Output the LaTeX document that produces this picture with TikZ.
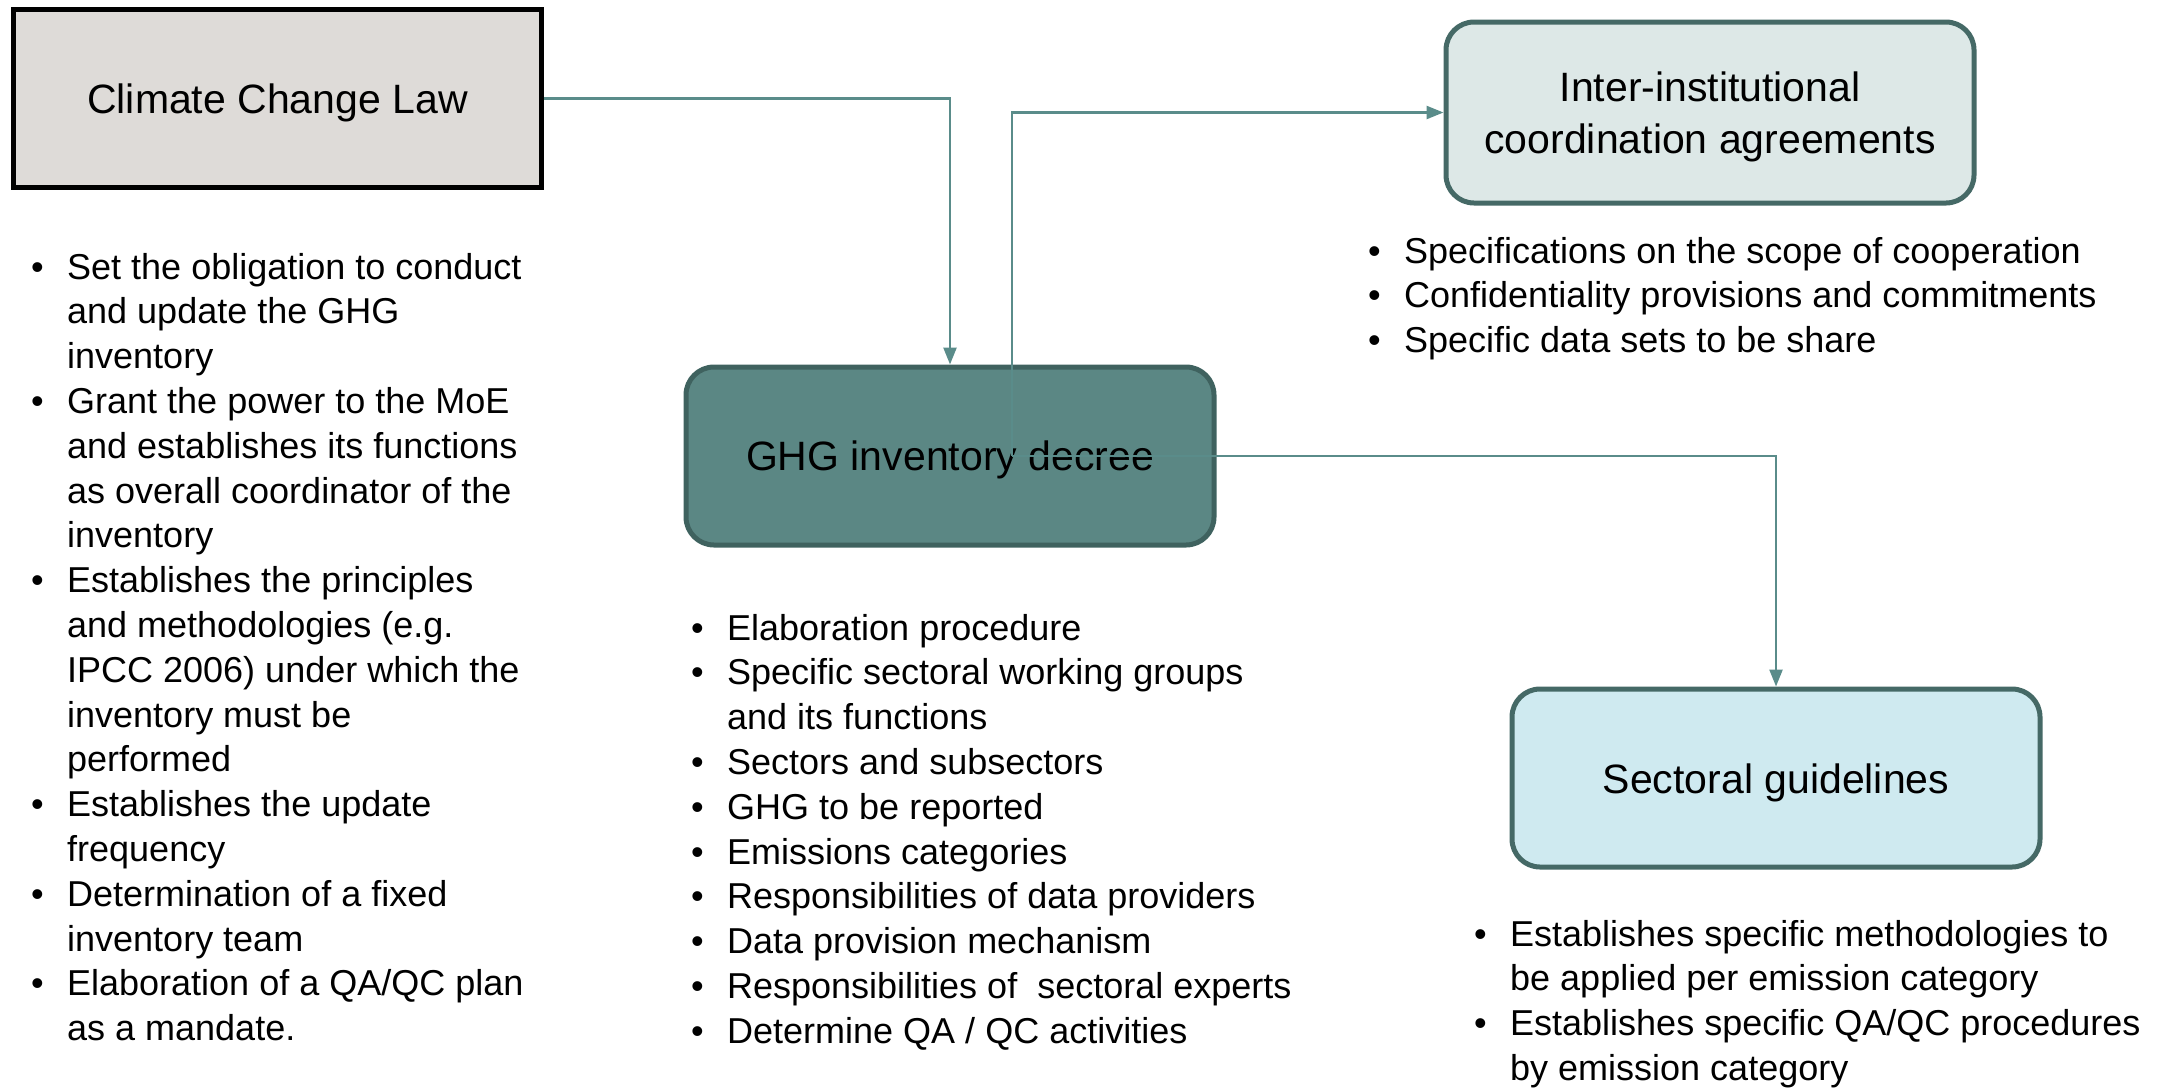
\documentclass[tikz,border=0pt]{standalone}
\usepackage{fontspec}
\setmainfont{Liberation Sans}
\usetikzlibrary{arrows.meta}
\definecolor{lawfill}{HTML}{DEDBD8}
\definecolor{decfill}{HTML}{5B8784}
\definecolor{decdraw}{HTML}{3F625F}
\definecolor{intfill}{HTML}{DDE8E7}
\definecolor{sectfill}{HTML}{CFEAF0}
\definecolor{boxdraw}{HTML}{456966}
\definecolor{conn}{HTML}{5A8C8A}
\newcommand{\bulitem}{\makebox[36pt][l]{\textbullet}}
\newcommand{\bulcont}{\hspace*{36pt}}
\tikzset{
  boxlabel/.style={font=\fontsize{41}{52}\selectfont, align=center, text=black, inner sep=0pt},
  lawbox/.style={draw=black, fill=lawfill, line width=5pt, minimum width=528pt, minimum height=178pt},
  roundbox/.style={rounded corners=28pt, line width=5pt, minimum width=528pt, minimum height=178pt},
  listtxt/.style={font=\fontsize{36}{44.8}\selectfont, inner sep=0pt, anchor=base west, text=black},
  connector/.style={draw=conn, line width=2.5pt},
  arrowtip/.style={-{Triangle[length=17pt,width=13pt]}}
}
\begin{document}
\begin{tikzpicture}[x=1pt,y=-1pt]
\useasboundingbox (0,0) rectangle (2159,1088);
% boxes
\node[lawbox] (law) at (277.5,98.5) {};
\node[roundbox, draw=decdraw, fill=decfill] (dec) at (950,456) {};
\node[roundbox, draw=boxdraw, fill=intfill, minimum height=181pt] (inter) at (1710,112.5) {};
\node[roundbox, draw=boxdraw, fill=sectfill] (sect) at (1776,778) {};
% box labels
\node[boxlabel] (lawlabel) at ([yshift=-4pt]law.center) {Climate Change Law};
\node[boxlabel] (declabel) at ([yshift=-4pt]dec.center) {GHG inventory decree};
\node[boxlabel] (interlabel) at ([yshift=-4pt]inter.center) {Inter-institutional\\coordination agreements};
\node[boxlabel] (sectlabel) at ([yshift=-5pt]sect.center) {Sectoral guidelines};
% bullet lists
\node[listtxt] (lawlist) at (31,279) {\parbox[t]{560pt}{%
\bulitem Set the obligation to conduct\\
\bulcont and update the GHG\\
\bulcont inventory\\
\bulitem Grant the power to the MoE\\
\bulcont and establishes its functions\\
\bulcont as overall coordinator of the\\
\bulcont inventory\\
\bulitem Establishes the principles\\
\bulcont and methodologies (e.g.\\
\bulcont IPCC 2006) under which the\\
\bulcont inventory must be\\
\bulcont performed\\
\bulitem Establishes the update\\
\bulcont frequency\\
\bulitem Determination of a fixed\\
\bulcont inventory team\\
\bulitem Elaboration of a QA/QC plan\\
\bulcont as a mandate.}};
\node[listtxt] (declist) at (691,640) {\parbox[t]{640pt}{%
\bulitem Elaboration procedure\\
\bulitem Specific sectoral working groups\\
\bulcont and its functions\\
\bulitem Sectors and subsectors\\
\bulitem GHG to be reported\\
\bulitem Emissions categories\\
\bulitem Responsibilities of data providers\\
\bulitem Data provision mechanism\\
\bulitem Responsibilities of\ \ sectoral experts\\
\bulitem Determine QA / QC activities}};
\node[listtxt] (interlist) at (1368,263) {\parbox[t]{780pt}{%
\bulitem Specifications on the scope of cooperation\\
\bulitem Confidentiality provisions and commitments\\
\bulitem Specific data sets to be share}};
\node[listtxt] (sectlist) at (1474,946) {\parbox[t]{680pt}{%
\bulitem Establishes specific methodologies to\\
\bulcont be applied per emission category\\
\bulitem Establishes specific QA/QC procedures\\
\bulcont by emission category}};
% connectors
\coordinate (split) at (1012,456);
\draw[connector, arrowtip] (law.east) -| (dec.north);
\draw[connector, arrowtip] (split) |- (inter.west);
\draw[connector, arrowtip] (split) -| (sect.north);
\end{tikzpicture}
\end{document}
